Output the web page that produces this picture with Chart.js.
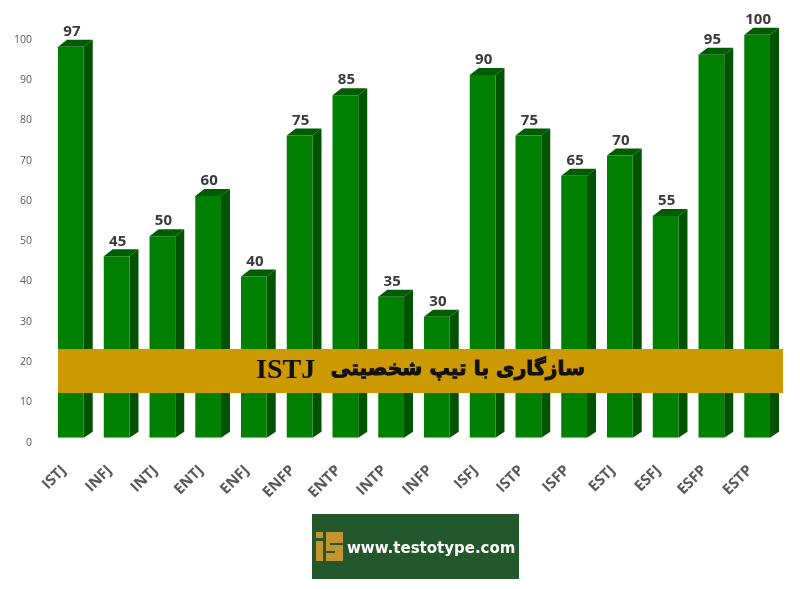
<!DOCTYPE html>
<html><head><meta charset="utf-8">
<style>html,body{margin:0;padding:0;background:#fff}#w{width:800px;height:589px;position:relative}</style>
<script src="https://cdn.jsdelivr.net/npm/chart.js@4"></script></head>
<body><div id="w"><canvas id="c" width="800" height="589"></canvas></div>
<script>
const categories = ["ISTJ","INFJ","INTJ","ENTJ","ENFJ","ENFP","ENTP","INTP","INFP","ISFJ","ISTP","ISFP","ESTJ","ESFJ","ESFP","ESTP"];
const values = [97,45,50,60,40,75,85,35,30,90,75,65,70,55,95,100];
const yTicks = [0,10,20,30,40,50,60,70,80,90,100];
const bannerPersian = "سازگاری با تیپ شخصیتی";
const bannerLatin = "ISTJ";
const logoText = "www.testotype.com";

const depth3d = {
  id:'depth3d',
  beforeDatasetsDraw(chart){
    const ctx = chart.ctx, dx = 9, dy = 7;
    chart.getDatasetMeta(0).data.forEach(b=>{
      const l=b.x-b.width/2, r=b.x+b.width/2, t=b.y, base=b.base;
      ctx.fillStyle='#005400';
      ctx.beginPath();ctx.moveTo(r,t);ctx.lineTo(r+dx,t-dy);ctx.lineTo(r+dx,base-dy+1);ctx.lineTo(r,base);ctx.closePath();ctx.fill();
      ctx.fillStyle='#005c00';
      ctx.beginPath();ctx.moveTo(l,t);ctx.lineTo(l+dx,t-dy);ctx.lineTo(r+dx,t-dy);ctx.lineTo(r,t);ctx.closePath();ctx.fill();
    });
  },
  afterDatasetsDraw(chart){
    const ctx = chart.ctx;
    ctx.save();
    ctx.fillStyle='#3a3a3a';
    ctx.font='bold 15px "Open Sans"';
    ctx.textAlign='center';ctx.textBaseline='middle';
    chart.getDatasetMeta(0).data.forEach((b,i)=>{
      ctx.fillText(String(values[i]), b.x+1, b.y-15);
    });
    ctx.restore();
  },
  afterDraw(chart){
    const ctx = chart.ctx;
    ctx.save();
    ctx.fillStyle='#CC9900';
    ctx.fillRect(58,349,725,44);
    ctx.fillStyle='#111';
    ctx.strokeStyle='#111';
    ctx.lineWidth=1;
    ctx.textBaseline='middle';
    ctx.font='bold 20.3px "DejaVu Sans"';
    ctx.direction='rtl';ctx.textAlign='right';
    ctx.fillText(bannerPersian,585,370);
    ctx.strokeText(bannerPersian,585,370);
    ctx.direction='ltr';ctx.textAlign='left';
    ctx.font='bold 28px "Liberation Serif"';
    ctx.fillText(bannerLatin,256,371);
    // logo
    ctx.fillStyle='#22582C';
    ctx.fillRect(312,514,207,65);
    ctx.fillStyle='#C4942F';
    ctx.fillRect(316,532,7,6);
    ctx.fillRect(316,541,7,20);
    ctx.fillRect(326,532,17,29);
    ctx.fillStyle='#22582C';
    ctx.fillRect(330,543,13,2);
    ctx.fillRect(326,551,9,2);
    ctx.fillStyle='#fff';
    ctx.font='bold 15px "DejaVu Sans"';
    ctx.textAlign='left';ctx.textBaseline='middle';
    ctx.fillText(logoText,347,549);
    ctx.restore();
  }
};

new Chart(document.getElementById('c'),{
  type:'bar',
  data:{labels:categories,datasets:[{data:values,backgroundColor:'#008000',categoryPercentage:1,barPercentage:0.562,borderWidth:0}]},
  plugins:[depth3d],
  options:{
    responsive:false,animation:false,
    layout:{padding:{left:0,right:20,top:34.7,bottom:91.3}},
    plugins:{legend:{display:false},tooltip:{enabled:false},title:{display:false}},
    scales:{
      x:{
        grid:{display:false},border:{display:false},
        afterFit(s){s.height=60;},
        ticks:{autoSkip:false,maxRotation:45,minRotation:45,padding:16,labelOffset:-7,color:'#595959',font:{family:'"Open Sans"',size:15,weight:'700'}}
      },
      y:{
        min:0,max:100,
        grid:{display:false},border:{display:false},
        afterFit(s){s.width=48;},
        afterBuildTicks(s){s.ticks=yTicks.map(v=>({value:v}));},
        ticks:{labelOffset:5,padding:8,color:'#595959',font:{family:'"Open Sans"',size:10.5}}
      }
    }
  }
});
</script></body></html>
